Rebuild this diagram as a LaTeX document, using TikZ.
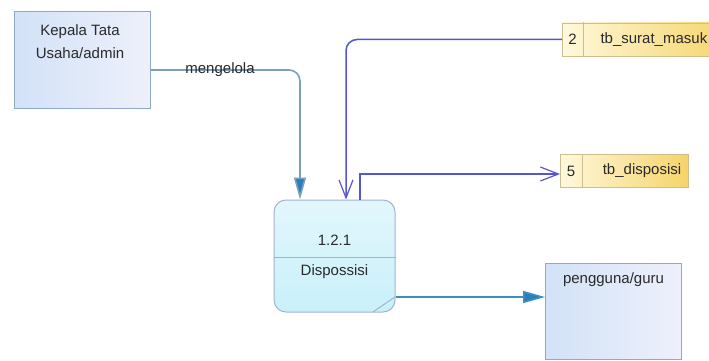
\documentclass[tikz,border=0pt]{standalone}
\usepackage{fontspec}
\setmainfont{Liberation Sans}
\usetikzlibrary{arrows.meta,calc}

\definecolor{entborder}{HTML}{8FAAC8}
\definecolor{entleft}{HTML}{D2E2F7}
\definecolor{entright}{HTML}{EEF0FB}
\definecolor{procborder}{HTML}{A4B2D2}
\definecolor{proctop}{HTML}{E2F7FC}
\definecolor{procbot}{HTML}{C9F0FA}
\definecolor{dsborder}{HTML}{CDBE8E}
\definecolor{dsleft}{HTML}{FFF8DC}
\definecolor{dsright}{HTML}{F5D468}
\definecolor{flowsteel}{HTML}{7AA0BE}
\definecolor{flowblue}{HTML}{3E8DC6}
\definecolor{tipblue}{HTML}{2A7FB8}
\definecolor{storeflow}{HTML}{5656CE}
\definecolor{txt}{HTML}{2A2A2A}

\tikzset{
  every node/.style={font=\fontsize{15}{23}\selectfont, text=txt},
  entity/.style={draw=entborder, line width=1pt, left color=entleft, right color=entright,
    minimum width=136pt, minimum height=96pt, inner sep=0pt},
  process/.style={draw=procborder, line width=1pt, rounded corners=12pt, top color=proctop,
    bottom color=procbot, minimum width=121pt, minimum height=112pt, inner sep=0pt},
  store/.style={draw=dsborder, line width=0.8pt, left color=dsleft, right color=dsright,
    minimum height=33pt, inner sep=0pt},
  solidflow/.style={line width=1.6pt, -{Triangle[length=22pt,width=12pt,fill=tipblue]}},
  storeflowline/.style={draw=storeflow, line width=1.5pt,
    -{Straight Barb[length=18pt,width=14pt,line width=1.2pt]}},
}

\begin{document}
\begin{tikzpicture}[x=1pt,y=-1pt]
  \clip (0,0) rectangle (709,361);
  \fill[white] (0,0) rectangle (709,361);

  % external entities
  \node[entity] (kepala) at (82,60) {};
  \node[align=center, anchor=north, inner sep=0pt] (kepalatxt) at (80,24) {Kepala Tata\\Usaha/admin};
  \node[entity, minimum height=96pt] (pengguna) at (613.5,311) {};
  \node[anchor=base] (penggunatxt) at (613.5,283) {pengguna/guru};

  % process 1.2.1
  \node[process] (proc) at (334.5,256) {};
  \draw[procborder, line width=1pt] (proc.west |- 0,257) -- (proc.east |- 0,257);
  \draw[procborder, line width=1pt] (373,312) -- (395,297);
  \node (procid) at (334.5,240) {1.2.1};
  \node (procname) at (334.5,272) {Dispossisi};

  % data stores
  \node[store, minimum width=170pt, anchor=west] (ds2) at (562,39.5) {};
  \draw[dsborder, line width=0.8pt] (583,22.5) -- (583,56.5);
  \node (ds2id) at (572.5,39.5) {2};
  \node[anchor=west] (ds2name) at (597,39.5) {tb\_surat\_masuk};

  \node[store, minimum width=128pt, anchor=west] (ds5) at (560,171) {};
  \draw[dsborder, line width=0.8pt] (582,154.5) -- (582,187.5);
  \node (ds5id) at (571,171) {5};
  \node (ds5name) at (642,171) {tb\_disposisi};

  % data flows
  \draw[solidflow, draw=flowsteel, rounded corners=11pt]
    ([yshift=-10pt]kepala.east) -| ([xshift=-34.5pt]proc.north);
  \node[anchor=base] (mengelola) at (220,74) {mengelola};

  \draw[storeflowline, rounded corners=11pt]
    (ds2.west) -| ([xshift=11.5pt]proc.north);

  \draw[storeflowline] ([xshift=25.5pt]proc.north) |- ([yshift=-3pt]ds5.west);

  \coordinate (pout) at ([yshift=-41pt]proc.east);
  \draw[solidflow, draw=flowblue] (pout) -- (pout -| pengguna.west);
\end{tikzpicture}
\end{document}
